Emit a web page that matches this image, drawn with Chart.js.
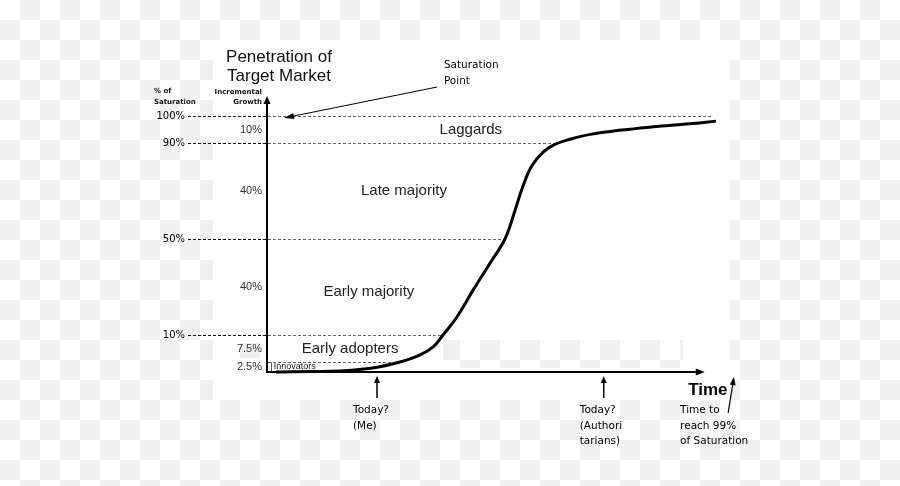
<!DOCTYPE html>
<html>
<head>
<meta charset="utf-8">
<script src="https://cdn.jsdelivr.net/npm/chart.js@4.4.1/dist/chart.umd.min.js"></script>
<style>
  html, body { margin: 0; padding: 0; background: #fff; }
  #graph-container { width: 900px; height: 486px; }
</style>
</head>
<body>
<div id="graph-container"><canvas id="myChart" width="900" height="486"></canvas></div>
<script>
// adoption stages: cumulative % of saturation reached at the top of each stage
var stageLevels = [0, 2.5, 10, 50, 90, 100];
var stageNames = ['Innovators', 'Early adopters', 'Early majority', 'Late majority', 'Laggards'];
var stageShares = ['2.5%', '7.5%', '40%', '40%', '10%'];
var levelTicks = [10, 50, 90, 100];
var levelLabels = ['10%', '50%', '90%', '100%'];

// the S-curve (time in arbitrary units, 0..100)
var timeValues = [2, 10, 16, 23.5, 29.6, 34, 37, 39.2, 42.3, 45.9, 49.7, 53, 55, 57, 59, 61.5, 64, 67.5, 72, 79, 86, 94, 100];
var penetration = [0, 0.1, 0.25, 1, 2.5, 4.4, 6.7, 10, 17.5, 28.7, 40, 50, 60.5, 72, 80.5, 86.2, 89.3, 91.4, 93.2, 94.8, 96, 97.1, 98.1];

// "today?" markers on the time axis
var markerTimes = [24.5, 75];
var markerLabels = [['Today?', '(Me)'], ['Today?', '(Authori', 'tarians)']];
var saturationTime = 104;

// layout only: drawn height of each band of the y axis (schematic, not linear)
var yBands = [10, 27, 96, 96, 27, 20];
var yBreaks = [0, 2.5, 10, 50, 90, 100, 107.5];
var stageLabelTime = [1.5, 18.5, 22.7, 30.5, 45.4];
var stageLabelLevel = [1.25, 6.25, 28, 70, 95];

class PiecewiseScale extends Chart.LinearScale {
    _frac(v) {
        var total = yBands.reduce(function (s, b) { return s + b; }, 0);
        var acc = 0;
        for (var i = 0; i < yBands.length; i++) {
            var lo = yBreaks[i], hi = yBreaks[i + 1];
            if (v <= hi || i === yBands.length - 1) {
                return (acc + (v - lo) / (hi - lo) * yBands[i]) / total;
            }
            acc += yBands[i];
        }
    }
    getPixelForValue(value) {
        return this.getPixelForDecimal(this._frac(value));
    }
    getValueForPixel(pixel) {
        var total = yBands.reduce(function (s, b) { return s + b; }, 0);
        var d = this.getDecimalForPixel(pixel) * total, acc = 0;
        for (var i = 0; i < yBands.length; i++) {
            if (d <= acc + yBands[i] || i === yBands.length - 1) {
                return yBreaks[i] + (d - acc) / yBands[i] * (yBreaks[i + 1] - yBreaks[i]);
            }
            acc += yBands[i];
        }
    }
}
PiecewiseScale.id = 'piecewise';
PiecewiseScale.defaults = Chart.LinearScale.defaults;
Chart.register(PiecewiseScale);

function checker(ctx, x, y, w, h) {
    ctx.save();
    ctx.beginPath();
    ctx.rect(x, y, w, h);
    ctx.clip();
    ctx.fillStyle = '#fff';
    ctx.fillRect(x, y, w, h);
    ctx.fillStyle = '#f0f0f0';
    for (var r = Math.floor(y / 20); r * 20 < y + h; r++) {
        for (var c = Math.floor(x / 20); c * 20 < x + w; c++) {
            if ((r + c) % 2) ctx.fillRect(c * 20, r * 20, 20, 20);
        }
    }
    ctx.restore();
}

function arrow(ctx, x1, y1, x2, y2, lw, hl, hw) {
    var ang = Math.atan2(y2 - y1, x2 - x1);
    var bx = x2 - hl * Math.cos(ang), by = y2 - hl * Math.sin(ang);
    ctx.lineWidth = lw;
    ctx.strokeStyle = '#000';
    ctx.fillStyle = '#000';
    ctx.setLineDash([]);
    ctx.beginPath();
    ctx.moveTo(x1, y1);
    ctx.lineTo(bx, by);
    ctx.stroke();
    ctx.beginPath();
    ctx.moveTo(x2, y2);
    ctx.lineTo(bx + hw * Math.sin(ang), by - hw * Math.cos(ang));
    ctx.lineTo(bx - hw * Math.sin(ang), by + hw * Math.cos(ang));
    ctx.closePath();
    ctx.fill();
}

// time at which the curve reaches a given level (linear between read points)
function crossing(level) {
    for (var i = 1; i < penetration.length; i++) {
        if (penetration[i] >= level) {
            var p0 = penetration[i - 1], p1 = penetration[i];
            return timeValues[i - 1] + (level - p0) / (p1 - p0) * (timeValues[i] - timeValues[i - 1]);
        }
    }
    return null;
}

function lines(ctx, arr, x, y, step) {
    arr.forEach(function (t, i) { ctx.fillText(t, x, y + i * step); });
}

var backdrop = {
    id: 'backdrop',
    beforeDraw: function (chart) {
        var ctx = chart.ctx;
        checker(ctx, 0, 0, chart.width, chart.height);
        ctx.save();
        ctx.fillStyle = '#fff';
        ctx.fillRect(213, 40, 517, 360);
        ctx.restore();
        checker(ctx, 443, 340, 240, 28);
        checker(ctx, 240, 343, 20, 15);
    }
};

var levelLines = {
    id: 'levelLines',
    beforeDatasetsDraw: function (chart) {
        var ctx = chart.ctx, a = chart.chartArea, xs = chart.scales.x, ys = chart.scales.y;
        ctx.save();
        ctx.lineWidth = 1;
        ctx.setLineDash([3, 2]);
        stageLevels.slice(1).forEach(function (lv) {
            var y = Math.round(ys.getPixelForValue(lv)) + 0.5;
            if (levelTicks.indexOf(lv) >= 0) {
                ctx.strokeStyle = '#111';
                ctx.beginPath();
                ctx.moveTo(a.left - 79, y);
                ctx.lineTo(a.left - 1, y);
                ctx.stroke();
            }
            var t = crossing(lv);
            var xEnd = t === null ? a.right - 4 : xs.getPixelForValue(t);
            ctx.strokeStyle = '#666';
            ctx.beginPath();
            ctx.moveTo(a.left + 1, y);
            ctx.lineTo(xEnd, y);
            ctx.stroke();
        });
        // small bracket for the innovators band
        ctx.setLineDash([]);
        ctx.strokeStyle = '#666';
        ctx.beginPath();
        ctx.moveTo(a.left + 4.5, ys.getPixelForValue(2.5));
        ctx.lineTo(a.left + 4.5, a.bottom - 1);
        ctx.stroke();
        ctx.restore();
    }
};

var annotations = {
    id: 'annotations',
    afterDraw: function (chart) {
        var ctx = chart.ctx, a = chart.chartArea, xs = chart.scales.x, ys = chart.scales.y;
        var L = a.left, T = a.top, B = a.bottom;
        ctx.save();

        // axes with arrow heads
        arrow(ctx, L, B + 1, L, T, 2, 8, 3.5);
        arrow(ctx, L - 1, B, xs.getPixelForValue(97.5), B, 2, 9, 3.5);

        // title
        ctx.fillStyle = '#111';
        ctx.font = '17px "Liberation Sans", Arial, sans-serif';
        ctx.textAlign = 'center';
        ctx.textBaseline = 'alphabetic';
        lines(ctx, ['Penetration of', 'Target Market'], L + 12, T - 34, 19);

        // small axis captions
        ctx.font = 'bold 7px "DejaVu Sans", sans-serif';
        ctx.textAlign = 'left';
        lines(ctx, ['% of', 'Saturation'], L - 113, T - 3, 11);
        ctx.textAlign = 'right';
        lines(ctx, ['Incremental', 'Growth'], L - 5, T - 2, 10);

        // share of each stage, beside the axis
        ctx.font = '11px "Liberation Sans", Arial, sans-serif';
        ctx.fillStyle = '#333';
        ctx.textBaseline = 'middle';
        stageShares.forEach(function (s, i) {
            var mid = (stageLevels[i] + stageLevels[i + 1]) / 2;
            ctx.fillText(s, L - 5, ys.getPixelForValue(mid));
        });

        // stage names
        stageNames.forEach(function (s, i) {
            if (i === 0) {
                ctx.font = '9px "Liberation Sans", Arial, sans-serif';
                ctx.textAlign = 'left';
            } else {
                ctx.font = '15px "Liberation Sans", Arial, sans-serif';
                ctx.textAlign = 'center';
            }
            ctx.fillStyle = '#222';
            ctx.fillText(s, xs.getPixelForValue(stageLabelTime[i]), ys.getPixelForValue(stageLabelLevel[i]));
        });

        // saturation point
        ctx.textBaseline = 'alphabetic';
        ctx.textAlign = 'left';
        ctx.fillStyle = '#000';
        ctx.font = '10.5px "DejaVu Sans", sans-serif';
        lines(ctx, ['Saturation', 'Point'], xs.getPixelForValue(39.4), T - 28, 16);
        arrow(ctx, xs.getPixelForValue(37.9), T - 9, xs.getPixelForValue(3.8), ys.getPixelForValue(100) + 2, 1, 10, 3);

        // today markers
        markerTimes.forEach(function (t, i) {
            var x = xs.getPixelForValue(t);
            arrow(ctx, x, B + 26, x, B + 4, 1.5, 7, 3);
            ctx.fillStyle = '#000';
            ctx.font = '10.5px "DejaVu Sans", sans-serif';
            lines(ctx, markerLabels[i], x - 24, B + 41, 15.5);
        });

        // time axis label and saturation time
        ctx.font = 'bold 17px "Liberation Sans", Arial, sans-serif';
        ctx.fillText('Time', xs.getPixelForValue(93.8), B + 23);
        ctx.font = '10.5px "DejaVu Sans", sans-serif';
        lines(ctx, ['Time to', 'reach 99%', 'of Saturation'], xs.getPixelForValue(92), B + 41, 15.5);
        arrow(ctx, xs.getPixelForValue(saturationTime - 1.3), B + 41, xs.getPixelForValue(saturationTime), B + 5, 1.2, 8, 3);

        ctx.restore();
    }
};

var ctx = document.getElementById('myChart').getContext('2d');
var myChart = new Chart(ctx, {
    type: 'line',
    data: {
        datasets: [{
            label: 'Penetration',
            data: timeValues.map(function (t, i) { return { x: t, y: penetration[i] }; }),
            borderColor: '#000',
            borderWidth: 3,
            pointRadius: 0,
            tension: 0.4,
            fill: false,
            clip: false
        }]
    },
    options: {
        responsive: false,
        animation: false,
        layout: { padding: { left: 0, top: 96, right: 184, bottom: 114 } },
        plugins: {
            legend: { display: false },
            tooltip: { enabled: false }
        },
        scales: {
            x: {
                type: 'linear',
                min: 0,
                max: 100,
                display: false
            },
            y: {
                type: 'piecewise',
                min: 0,
                max: 107.5,
                grid: { display: false, drawTicks: false },
                border: { display: false },
                afterBuildTicks: function (scale) {
                    scale.ticks = levelTicks.map(function (v) { return { value: v }; });
                },
                afterFit: function (scale) {
                    scale.width = 267;
                },
                ticks: {
                    padding: 82,
                    color: '#000',
                    font: { family: '"DejaVu Sans", sans-serif', size: 10 },
                    callback: function (value) {
                        var i = levelTicks.indexOf(value);
                        return i >= 0 ? levelLabels[i] : '';
                    }
                }
            }
        }
    },
    plugins: [backdrop, levelLines, annotations]
});
</script>
</body>
</html>
